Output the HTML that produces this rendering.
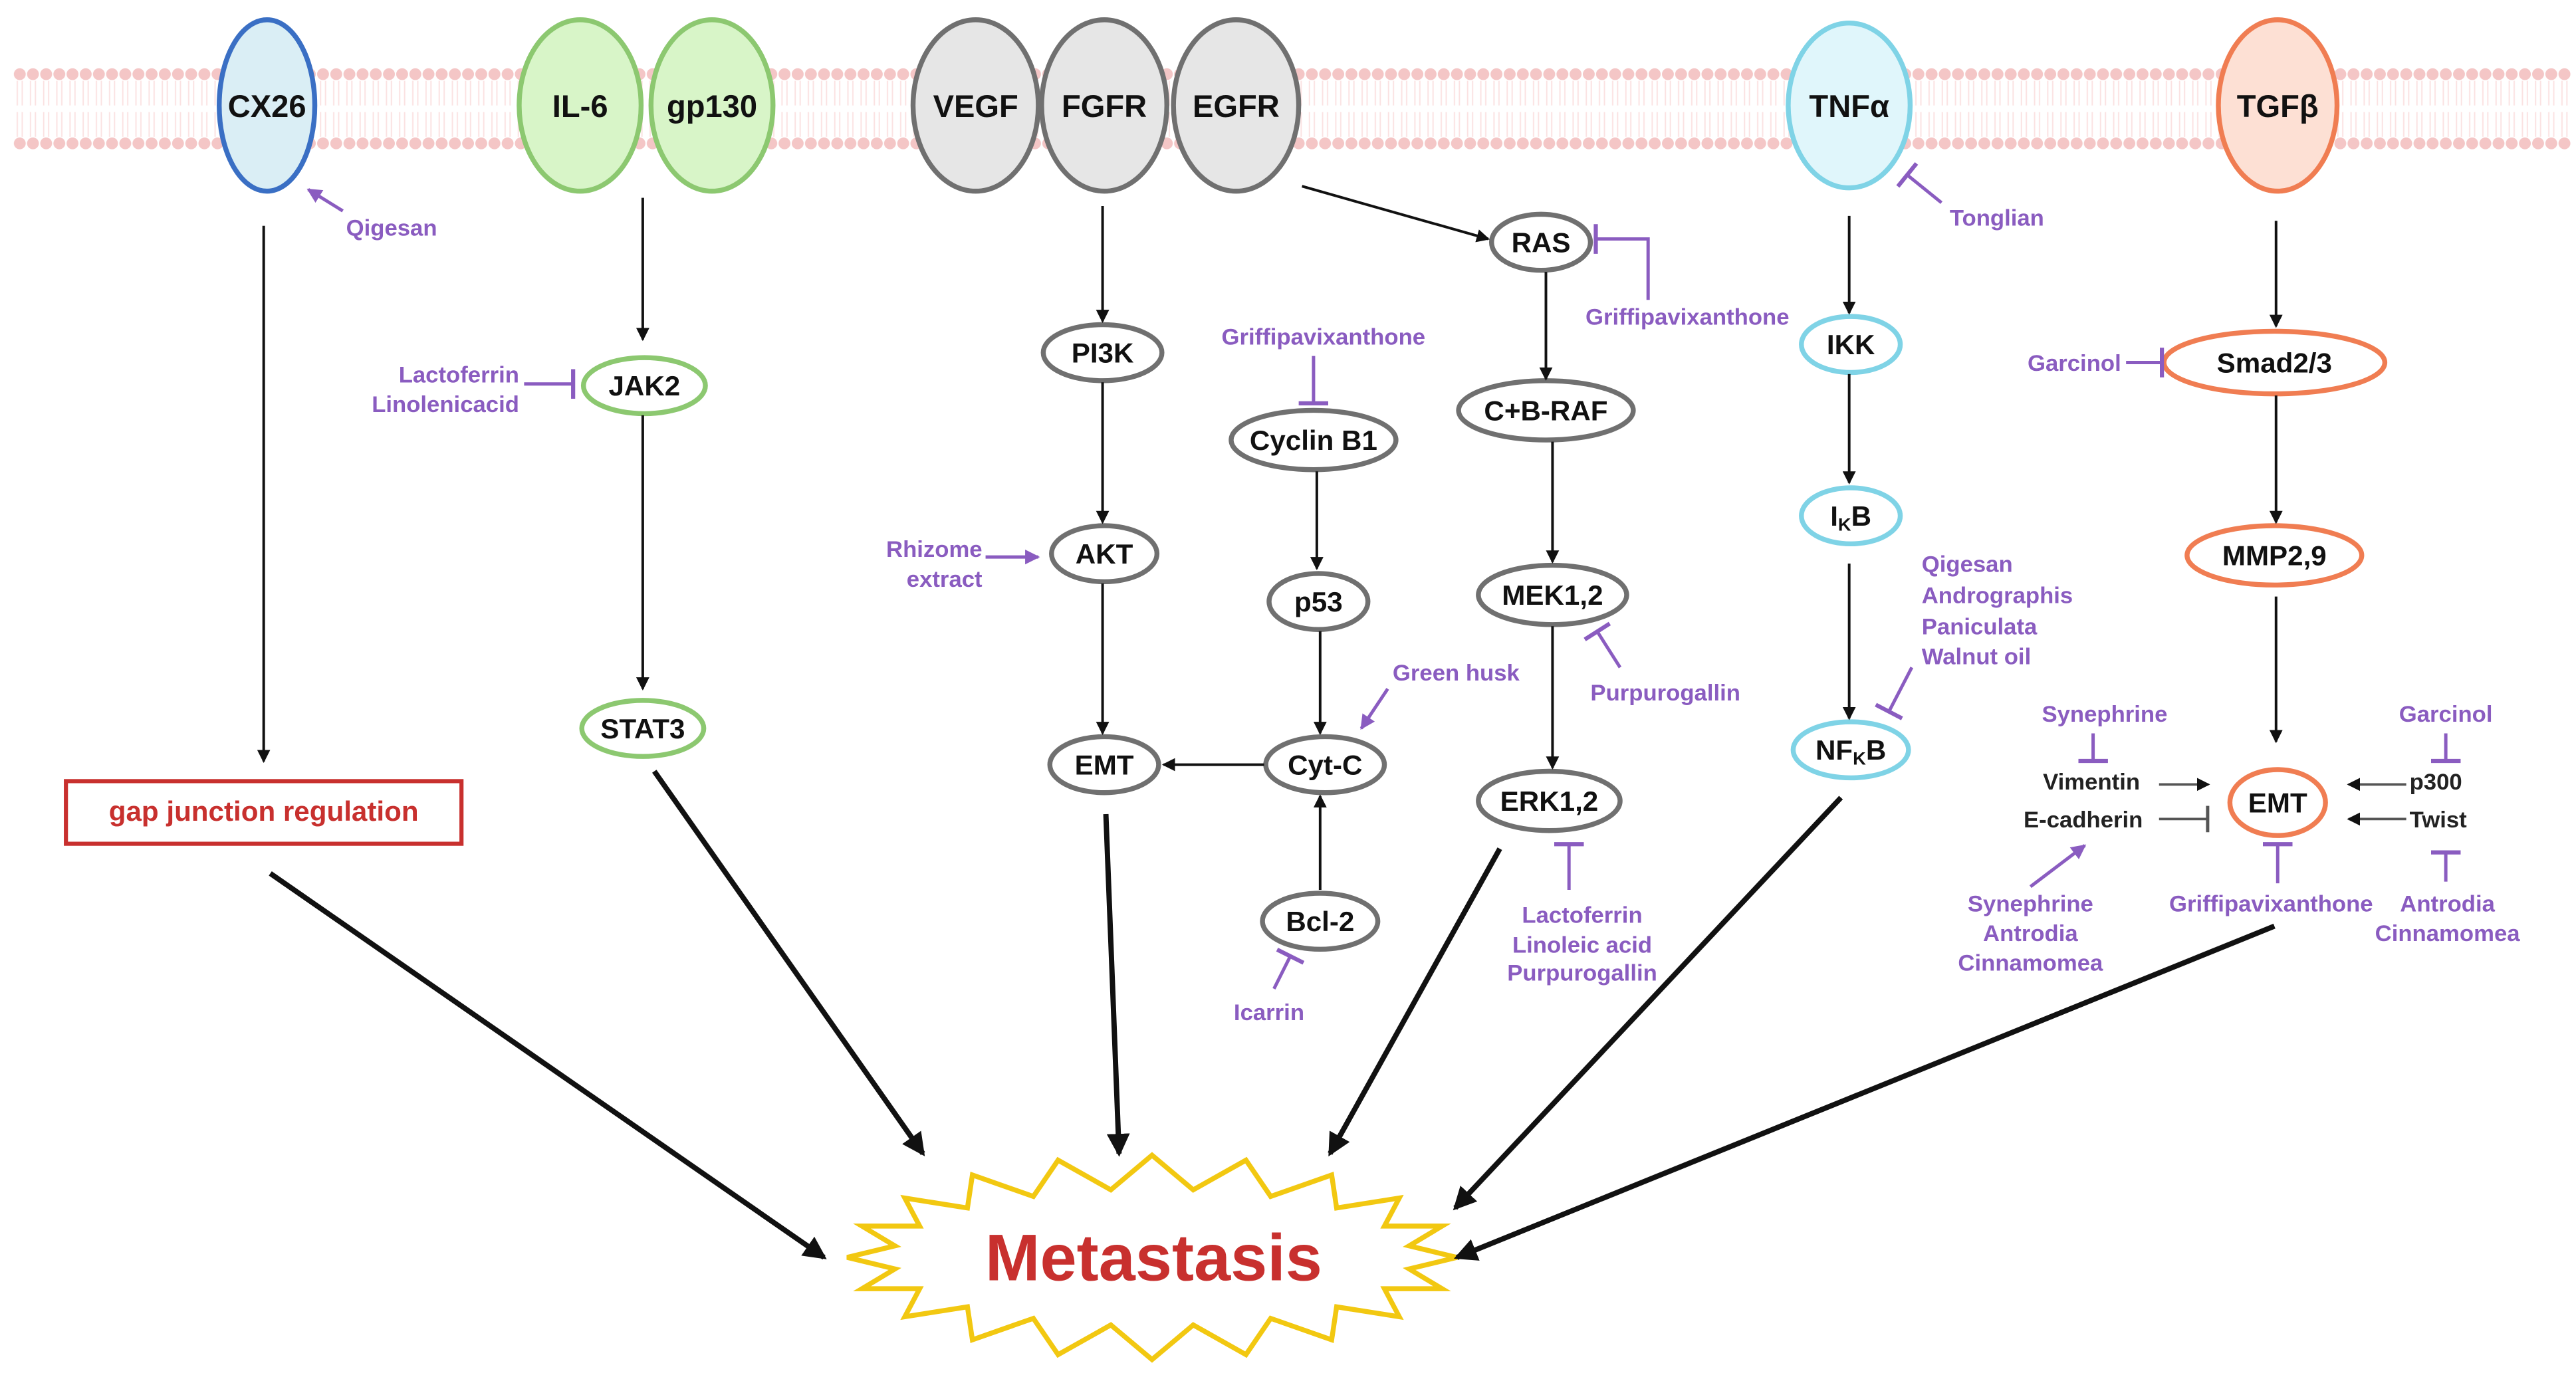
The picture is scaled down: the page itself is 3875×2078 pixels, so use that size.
<!DOCTYPE html>
<html><head><meta charset="utf-8"><style>
html,body{margin:0;padding:0;background:#fff;}
svg{display:block;}
text{font-family:"Liberation Sans",sans-serif;font-weight:bold;}
.n{font-size:17px;fill:#111;text-anchor:middle;}
.p{font-size:14px;fill:#8a5cc0;}
.k{font-size:14px;fill:#222;}
</style></head><body>
<svg width="3875" height="2078" viewBox="0 0 1563 838" preserveAspectRatio="none" xmlns="http://www.w3.org/2000/svg">
<defs>
<pattern id="mem" x="8" y="0" width="8" height="838" patternUnits="userSpaceOnUse">
<circle cx="4" cy="45" r="3.6" fill="#f4c6c6"/>
<circle cx="4" cy="87" r="3.6" fill="#f4c6c6"/>
<line x1="2.5" y1="49" x2="2.5" y2="64" stroke="#fbe2e2" stroke-width="0.8"/>
<line x1="5.5" y1="49" x2="5.5" y2="64" stroke="#fbe2e2" stroke-width="0.8"/>
<line x1="2.5" y1="68" x2="2.5" y2="83" stroke="#fbe2e2" stroke-width="0.8"/>
<line x1="5.5" y1="68" x2="5.5" y2="83" stroke="#fbe2e2" stroke-width="0.8"/>
</pattern>
<marker id="a" markerWidth="8" markerHeight="8" refX="7" refY="4" orient="auto" markerUnits="userSpaceOnUse"><path d="M0,0 L8,4 L0,8 Z" fill="#111"/></marker>
<marker id="A" markerWidth="14" markerHeight="14" refX="12" refY="7" orient="auto" markerUnits="userSpaceOnUse"><path d="M0,0 L14,7 L0,14 Z" fill="#111"/></marker>
<marker id="pa" markerWidth="9" markerHeight="9" refX="8" refY="4.5" orient="auto" markerUnits="userSpaceOnUse"><path d="M0,0 L9,4.5 L0,9 Z" fill="#8a5cc0"/></marker>
<marker id="pi" markerWidth="4" markerHeight="18" refX="2" refY="9" orient="auto" markerUnits="userSpaceOnUse"><rect x="0.5" y="0" width="2.5" height="18" fill="#8a5cc0"/></marker>
<marker id="ki" markerWidth="4" markerHeight="16" refX="2" refY="8" orient="auto" markerUnits="userSpaceOnUse"><rect x="0.5" y="0" width="2" height="16" fill="#555"/></marker>
</defs>
<rect x="8" y="38" width="1552" height="56" fill="url(#mem)"/>

<!-- receptors -->
<g stroke-width="3">
<ellipse cx="162" cy="64" rx="29" ry="52" fill="#daeef5" stroke="#3a6fc4"/>
<ellipse cx="352" cy="64" rx="37" ry="52" fill="#d8f5c8" stroke="#8cc870"/>
<ellipse cx="432" cy="64" rx="37" ry="52" fill="#d8f5c8" stroke="#8cc870"/>
<ellipse cx="592" cy="64" rx="38" ry="52" fill="#e6e6e6" stroke="#707070"/>
<ellipse cx="670" cy="64" rx="38" ry="52" fill="#e6e6e6" stroke="#707070"/>
<ellipse cx="750" cy="64" rx="38" ry="52" fill="#e6e6e6" stroke="#707070"/>
<ellipse cx="1122" cy="64" rx="37" ry="50" fill="#e0f6fb" stroke="#7fd3e6"/>
<ellipse cx="1382" cy="64" rx="36" ry="52" fill="#fde0d4" stroke="#f07d52"/>
</g>
<g class="n" style="font-size:19px">
<text x="162" y="71" class="n" style="font-size:19px">CX26</text>
<text x="352" y="71" class="n" style="font-size:19px">IL-6</text>
<text x="432" y="71" class="n" style="font-size:19px">gp130</text>
<text x="592" y="71" class="n" style="font-size:19px">VEGF</text>
<text x="670" y="71" class="n" style="font-size:19px">FGFR</text>
<text x="750" y="71" class="n" style="font-size:19px">EGFR</text>
<text x="1122" y="71" class="n" style="font-size:19px">TNFα</text>
<text x="1382" y="71" class="n" style="font-size:19px">TGFβ</text>
</g>

<!-- nodes -->
<g fill="#fff" stroke-width="3">
<ellipse cx="391" cy="234" rx="37" ry="17" stroke="#8cc870"/>
<ellipse cx="390" cy="442" rx="37" ry="17" stroke="#8cc870"/>
<ellipse cx="669" cy="214" rx="36" ry="17" stroke="#707070"/>
<ellipse cx="670" cy="336" rx="32" ry="17" stroke="#707070"/>
<ellipse cx="670" cy="464" rx="33" ry="17" stroke="#707070"/>
<ellipse cx="797" cy="267" rx="50" ry="18" stroke="#707070"/>
<ellipse cx="800" cy="365" rx="30" ry="17" stroke="#707070"/>
<ellipse cx="804" cy="464" rx="36" ry="17" stroke="#707070"/>
<ellipse cx="801" cy="559" rx="35" ry="17" stroke="#707070"/>
<ellipse cx="935" cy="147" rx="30" ry="17" stroke="#707070"/>
<ellipse cx="938" cy="249" rx="53" ry="18" stroke="#707070"/>
<ellipse cx="942" cy="361" rx="45" ry="18" stroke="#707070"/>
<ellipse cx="940" cy="486" rx="43" ry="18" stroke="#707070"/>
<ellipse cx="1123" cy="209" rx="30" ry="17" stroke="#7fd3e6"/>
<ellipse cx="1123" cy="313" rx="30" ry="17" stroke="#7fd3e6"/>
<ellipse cx="1123" cy="455" rx="35" ry="17" stroke="#7fd3e6"/>
<ellipse cx="1380" cy="220" rx="67" ry="19" stroke="#f07d52"/>
<ellipse cx="1380" cy="337" rx="53" ry="18" stroke="#f07d52"/>
<ellipse cx="1382" cy="487" rx="29" ry="20" stroke="#f07d52"/>
</g>
<text class="n" x="391" y="240">JAK2</text>
<text class="n" x="390" y="448">STAT3</text>
<text class="n" x="669" y="220">PI3K</text>
<text class="n" x="670" y="342">AKT</text>
<text class="n" x="670" y="470">EMT</text>
<text class="n" x="797" y="273">Cyclin B1</text>
<text class="n" x="800" y="371">p53</text>
<text class="n" x="804" y="470">Cyt-C</text>
<text class="n" x="801" y="565">Bcl-2</text>
<text class="n" x="935" y="153">RAS</text>
<text class="n" x="938" y="255">C+B-RAF</text>
<text class="n" x="942" y="367">MEK1,2</text>
<text class="n" x="940" y="492">ERK1,2</text>
<text class="n" x="1123" y="215">IKK</text>
<text class="n" x="1123" y="319">I<tspan font-size="11" dy="3">K</tspan><tspan dy="-3">B</tspan></text>
<text class="n" x="1123" y="461">NF<tspan font-size="11" dy="3">K</tspan><tspan dy="-3">B</tspan></text>
<text class="n" x="1380" y="226">Smad2/3</text>
<text class="n" x="1380" y="343">MMP2,9</text>
<text class="n" x="1382" y="493">EMT</text>

<!-- gap junction box -->
<rect x="40" y="474" width="240" height="38" fill="#fff" stroke="#c8302e" stroke-width="2.5"/>
<text x="160" y="498" text-anchor="middle" style="font-size:17px;fill:#c8302e">gap junction regulation</text>

<!-- starburst -->
<polygon fill="#fff" stroke="#f2c811" stroke-width="3" points="884,763 855,770 875,782 840,782 849,799 811,793 808,813 771,800 756,822 724,804 699,825 674,804 642,822 627,800 590,813 587,793 549,799 558,782 523,782 543,770 514,763 543,756 523,744 558,744 549,727 587,733 590,713 627,726 642,704 674,722 699,701 724,722 756,704 771,726 808,713 811,733 849,727 840,744 875,744 855,756"/>
<text x="700" y="777" text-anchor="middle" style="font-size:40px;fill:#c8302e">Metastasis</text>

<!-- black arrows -->
<g stroke="#111" stroke-width="1.6" fill="none" marker-end="url(#a)">
<line x1="160" y1="137" x2="160" y2="462"/>
<line x1="390" y1="120" x2="390" y2="206"/>
<line x1="390" y1="252" x2="390" y2="418"/>
<line x1="669" y1="125" x2="669" y2="195"/>
<line x1="669" y1="232" x2="669" y2="317"/>
<line x1="669" y1="354" x2="669" y2="445"/>
<line x1="790" y1="113" x2="903" y2="145"/>
<line x1="938" y1="165" x2="938" y2="230"/>
<line x1="942" y1="268" x2="942" y2="341"/>
<line x1="942" y1="380" x2="942" y2="466"/>
<line x1="799" y1="286" x2="799" y2="345"/>
<line x1="801" y1="383" x2="801" y2="445"/>
<line x1="801" y1="540" x2="801" y2="483"/>
<line x1="767" y1="464" x2="706" y2="464"/>
<line x1="1122" y1="131" x2="1122" y2="190"/>
<line x1="1122" y1="227" x2="1122" y2="293"/>
<line x1="1122" y1="342" x2="1122" y2="436"/>
<line x1="1381" y1="134" x2="1381" y2="198"/>
<line x1="1381" y1="240" x2="1381" y2="317"/>
<line x1="1381" y1="362" x2="1381" y2="450"/>
</g>
<g stroke="#111" stroke-width="3.2" fill="none" marker-end="url(#A)">
<line x1="164" y1="530" x2="500" y2="763"/>
<line x1="397" y1="468" x2="560" y2="700"/>
<line x1="671" y1="494" x2="679" y2="700"/>
<line x1="910" y1="515" x2="807" y2="700"/>
<line x1="1117" y1="484" x2="883" y2="733"/>
<line x1="1380" y1="562" x2="884" y2="763"/>
</g>

<!-- purple connectors -->
<g stroke="#8a5cc0" stroke-width="2" fill="none">
<line x1="208" y1="128" x2="187" y2="115" marker-end="url(#pa)"/>
<line x1="318" y1="233" x2="348" y2="233" marker-end="url(#pi)"/>
<line x1="598" y1="338" x2="630" y2="338" marker-end="url(#pa)"/>
<line x1="797" y1="216" x2="797" y2="245" marker-end="url(#pi)"/>
<line x1="842" y1="418" x2="826" y2="442" marker-end="url(#pa)"/>
<line x1="773" y1="600" x2="783" y2="580" marker-end="url(#pi)"/>
<polyline points="1000,182 1000,145 968,145" marker-end="url(#pi)"/>
<line x1="983" y1="405" x2="969" y2="383" marker-end="url(#pi)"/>
<line x1="952" y1="540" x2="952" y2="512" marker-end="url(#pi)"/>
<line x1="1178" y1="123" x2="1157" y2="106" marker-end="url(#pi)"/>
<line x1="1160" y1="405" x2="1146" y2="432" marker-end="url(#pi)"/>
<line x1="1290" y1="220" x2="1312" y2="220" marker-end="url(#pi)"/>
<line x1="1270" y1="445" x2="1270" y2="462" marker-end="url(#pi)"/>
<line x1="1232" y1="538" x2="1265" y2="513" marker-end="url(#pa)"/>
<line x1="1382" y1="536" x2="1382" y2="512" marker-end="url(#pi)"/>
<line x1="1484" y1="445" x2="1484" y2="462" marker-end="url(#pi)"/>
<line x1="1484" y1="535" x2="1484" y2="517" marker-end="url(#pi)"/>
</g>
<g stroke="#555" stroke-width="1.5" fill="none">
<line x1="1310" y1="476" x2="1340" y2="476" marker-end="url(#a)"/>
<line x1="1310" y1="497" x2="1340" y2="497" marker-end="url(#ki)"/>
<line x1="1460" y1="476" x2="1425" y2="476" marker-end="url(#a)"/>
<line x1="1460" y1="497" x2="1425" y2="497" marker-end="url(#a)"/>
</g>

<!-- purple labels -->
<text class="p" x="210" y="143">Qigesan</text>
<text class="p" x="315" y="232" text-anchor="end">Lactoferrin</text>
<text class="p" x="315" y="250" text-anchor="end">Linolenicacid</text>
<text class="p" x="596" y="338" text-anchor="end">Rhizome</text>
<text class="p" x="596" y="356" text-anchor="end">extract</text>
<text class="p" x="803" y="209" text-anchor="middle">Griffipavixanthone</text>
<text class="p" x="845" y="413">Green husk</text>
<text class="p" x="770" y="619" text-anchor="middle">Icarrin</text>
<text class="p" x="962" y="197">Griffipavixanthone</text>
<text class="p" x="965" y="425">Purpurogallin</text>
<text class="p" x="960" y="560" text-anchor="middle">Lactoferrin</text>
<text class="p" x="960" y="578" text-anchor="middle">Linoleic acid</text>
<text class="p" x="960" y="595" text-anchor="middle">Purpurogallin</text>
<text class="p" x="1183" y="137">Tonglian</text>
<text class="p" x="1166" y="347">Qigesan</text>
<text class="p" x="1166" y="366">Andrographis</text>
<text class="p" x="1166" y="385">Paniculata</text>
<text class="p" x="1166" y="403">Walnut oil</text>
<text class="p" x="1287" y="225" text-anchor="end">Garcinol</text>
<text class="p" x="1277" y="438" text-anchor="middle">Synephrine</text>
<text class="p" x="1232" y="553" text-anchor="middle">Synephrine</text>
<text class="p" x="1232" y="571" text-anchor="middle">Antrodia</text>
<text class="p" x="1232" y="589" text-anchor="middle">Cinnamomea</text>
<text class="p" x="1378" y="553" text-anchor="middle">Griffipavixanthone</text>
<text class="p" x="1484" y="438" text-anchor="middle">Garcinol</text>
<text class="p" x="1485" y="553" text-anchor="middle">Antrodia</text>
<text class="p" x="1485" y="571" text-anchor="middle">Cinnamomea</text>
<text class="k" x="1269" y="479" text-anchor="middle">Vimentin</text>
<text class="k" x="1264" y="502" text-anchor="middle">E-cadherin</text>
<text class="k" x="1462" y="479">p300</text>
<text class="k" x="1462" y="502">Twist</text>
</svg>
</body></html>
